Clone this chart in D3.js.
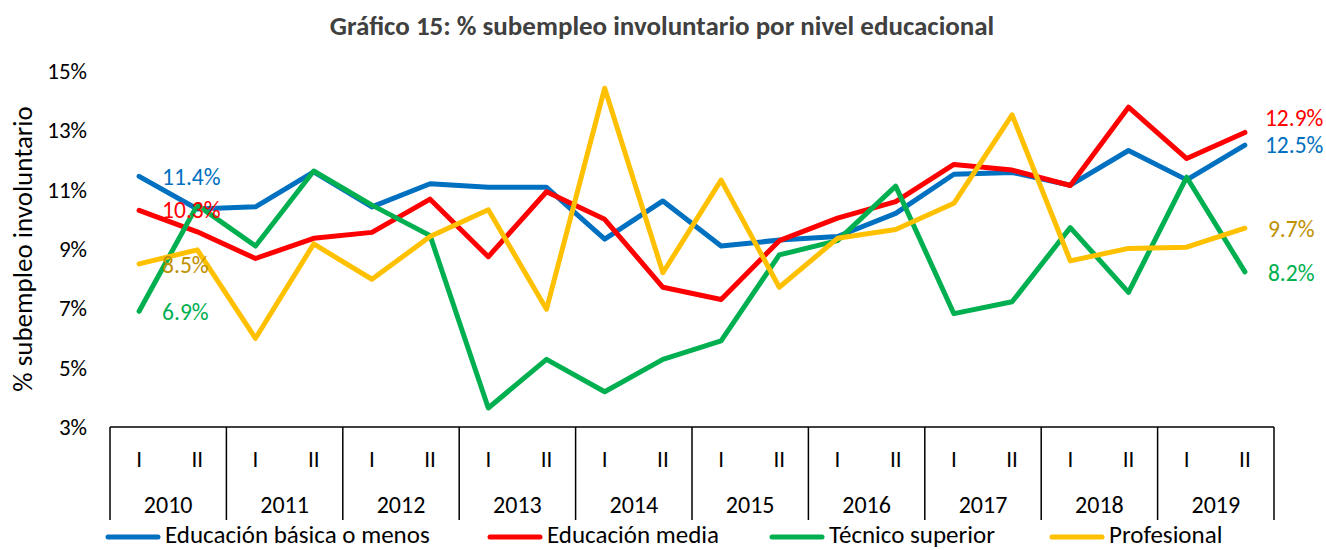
<!DOCTYPE html>
<html>
<head>
<meta charset="utf-8">
<script src="https://cdn.jsdelivr.net/npm/d3@7"></script>
<style>
  body { margin: 0; background: #fff; }
  svg text { font-family: Carlito, Lato, "Open Sans", sans-serif; }
</style>
</head>
<body>
<div id="chart"></div>
<script>
// data
var years = ["2010","2011","2012","2013","2014","2015","2016","2017","2018","2019"];
var halves = ["I","II"];
var basica =  [11.45,10.35,10.42,11.6,10.42,11.2,11.08,11.08,9.33,10.62,9.1,9.3,9.42,10.2,11.52,11.58,11.15,12.32,11.33,12.5];
var media =   [10.3,9.58,8.68,9.36,9.56,10.68,8.74,10.93,10.0,7.71,7.3,9.28,10.04,10.6,11.85,11.66,11.14,13.78,12.05,12.93];
var tecnico = [6.9,10.48,9.1,11.63,10.48,9.45,3.64,5.28,4.19,5.28,5.9,8.8,9.28,11.12,6.82,7.22,9.72,7.54,11.42,8.23];
var profesional = [8.5,8.97,5.99,9.17,7.98,9.42,10.32,6.97,14.42,8.2,11.32,7.71,9.36,9.66,10.54,13.52,8.6,9.02,9.06,9.7];
var seriesNames = ["Educación básica o menos","Educación media","Técnico superior","Profesional"];
var colors = ["#0070C0","#FF0000","#00B050","#FFC000"];
var labelColors = ["#0070C0","#FF0000","#00B050","#BF9000"];
var yTicks = [3,5,7,9,11,13,15];

var width = 1326, height = 550;
var plotLeft = 110, plotRight = 1274, plotTop = 71, plotBottom = 427;

var svg = d3.select("#chart").append("svg")
    .attr("width", width)
    .attr("height", height);

// one slot per half-year
var periods = [];
years.forEach(yr => halves.forEach(h => periods.push(yr + "-" + h)));

var x = d3.scaleBand().domain(periods).range([plotLeft, plotRight]);
var xYear = d3.scaleBand().domain(years).range([plotLeft, plotRight]);
var y = d3.scaleLinear().domain([3, 15]).range([plotBottom, plotTop]);
var cx = p => x(p) + x.bandwidth() / 2;

//title
svg.append("text")
    .attr("x", 662).attr("y", 35)
    .attr("text-anchor", "middle")
    .attr("font-size", 27).attr("font-weight", "bold")
    .attr("fill", "#404040")
    .text("Gráfico 15: % subempleo involuntario por nivel educacional");

//y axis labels (no axis line, no grid)
svg.selectAll(".ytick").data(yTicks).enter().append("text")
    .attr("class", "ytick")
    .attr("x", plotLeft - 23).attr("y", d => y(d) + 8)
    .attr("text-anchor", "end")
    .attr("font-size", 23).attr("fill", "#000")
    .text(d => d + "%");

svg.append("text")
    .attr("transform", "translate(32," + ((plotTop + plotBottom) / 2) + ") rotate(-90)")
    .attr("text-anchor", "middle")
    .attr("font-size", 27).attr("fill", "#000")
    .text("% subempleo involuntario");

//x axis: baseline + year dividers
svg.append("line")
    .attr("x1", plotLeft).attr("x2", plotRight)
    .attr("y1", plotBottom).attr("y2", plotBottom)
    .attr("stroke", "#000").attr("stroke-width", 1.5);

var dividers = years.map(d => xYear(d)).concat([plotRight]);
svg.selectAll(".div").data(dividers).enter().append("line")
    .attr("class", "div")
    .attr("x1", d => d).attr("x2", d => d)
    .attr("y1", plotBottom).attr("y2", 520)
    .attr("stroke", "#000").attr("stroke-width", 1.5);

svg.selectAll(".half").data(periods).enter().append("text")
    .attr("class", "half")
    .attr("x", d => cx(d))
    .attr("y", 467)
    .attr("text-anchor", "middle")
    .attr("font-size", 23)
    .text(d => d.split("-")[1]);

svg.selectAll(".year").data(years).enter().append("text")
    .attr("class", "year")
    .attr("x", d => xYear(d) + xYear.bandwidth() / 2)
    .attr("y", 513)
    .attr("text-anchor", "middle")
    .attr("font-size", 24)
    .text(d => d);

//lines
var allSeries = [basica, media, tecnico, profesional];
var line = d3.line()
    .x((d, i) => cx(periods[i]))
    .y(d => y(d));

allSeries.forEach((s, k) => {
    svg.append("path")
        .datum(s)
        .attr("fill", "none")
        .attr("stroke", colors[k])
        .attr("stroke-width", 5)
        .attr("stroke-linejoin", "round")
        .attr("stroke-linecap", "round")
        .attr("d", line);
});

//value labels at first and last point
var fmt = d => d.toFixed(1) + "%";
var firstX = cx(periods[0]) + 23;
var lastX = cx(periods[periods.length - 1]) + 20;
var firstOffsets = [9, 8, 9, 9];
var lastOffsets = [8, -6, 9, 9];
allSeries.forEach((s, k) => {
    svg.append("text")
        .attr("x", firstX).attr("y", y(s[0]) + firstOffsets[k])
        .attr("font-size", 23.5).attr("fill", labelColors[k])
        .text(fmt(s[0]));
    svg.append("text")
        .attr("x", lastX + (k >= 2 ? 3 : 0)).attr("y", y(s[s.length - 1]) + lastOffsets[k])
        .attr("font-size", 23.5).attr("fill", labelColors[k])
        .text(fmt(s[s.length - 1]));
});

//legend
var legendX = [106, 488, 770, 1050];
seriesNames.forEach((n, k) => {
    svg.append("line")
        .attr("x1", legendX[k] + 2).attr("x2", legendX[k] + 52)
        .attr("y1", 537).attr("y2", 537)
        .attr("stroke", colors[k]).attr("stroke-width", 5)
        .attr("stroke-linecap", "round");
    svg.append("text")
        .attr("x", legendX[k] + 59).attr("y", 543)
        .attr("font-size", 25)
        .text(n);
});
</script>
</body>
</html>
